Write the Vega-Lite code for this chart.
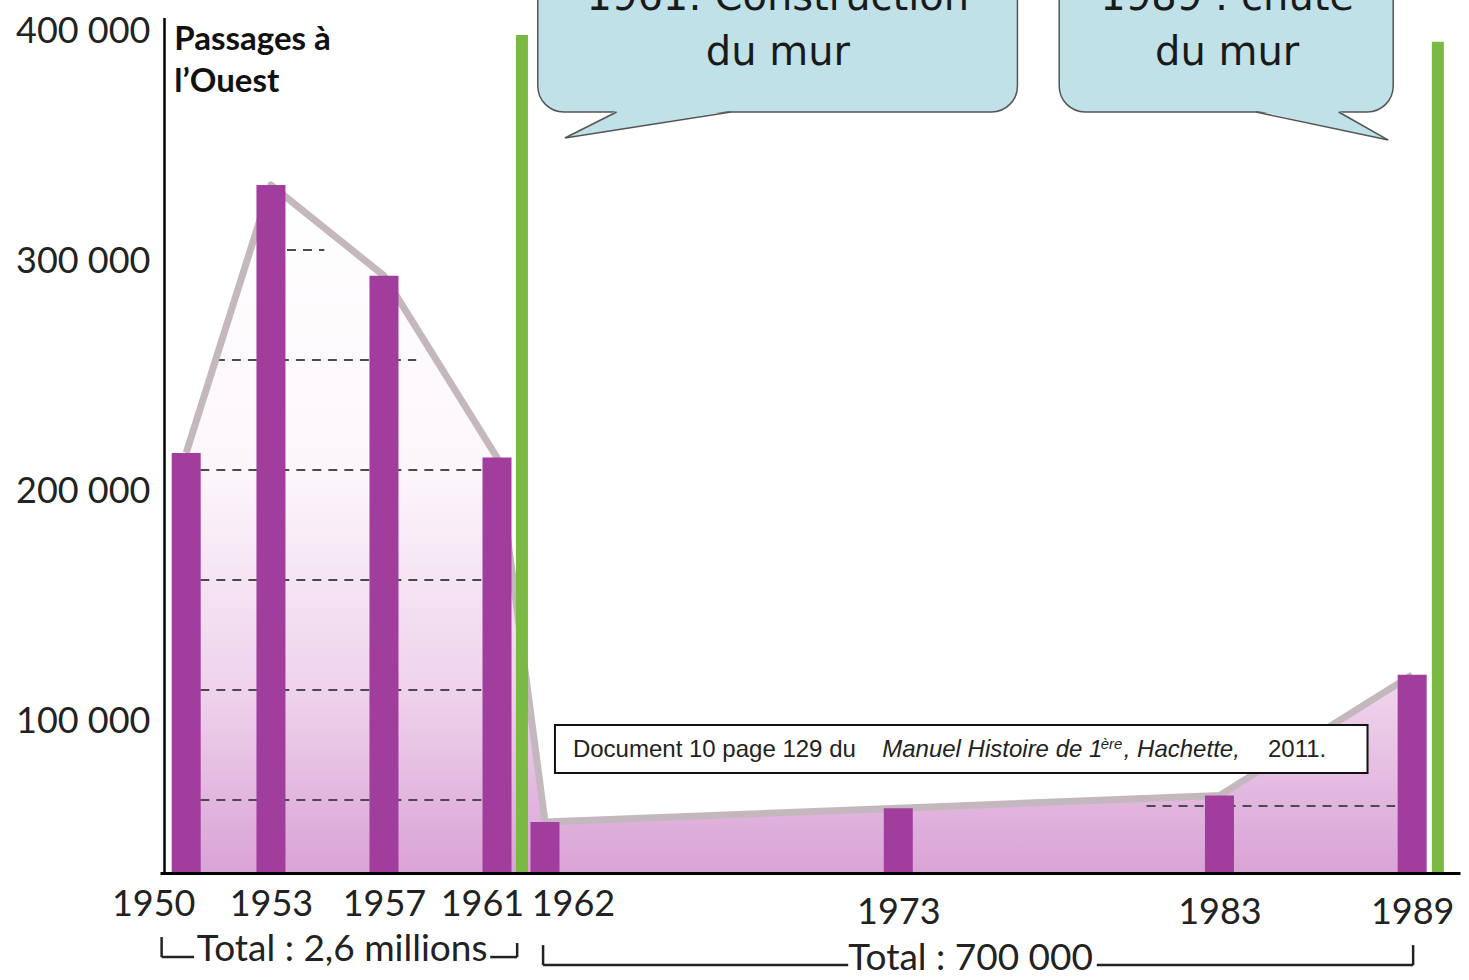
{
  "$schema": "https://vega.github.io/schema/vega-lite/v6.json",
  "width": 1300,
  "height": 873,
  "autosize": {"type": "none"},
  "padding": {"left": 160, "top": 0, "right": 9, "bottom": 107},
  "background": "#ffffff",
  "config": {"view": {"stroke": null}, "font": "Lato"},
  "datasets": {
    "passages": [
      {"x": 1950, "y": 217000},
      {"x": 1953, "y": 333500},
      {"x": 1957, "y": 294000},
      {"x": 1961, "y": 215000},
      {"x": 1962, "y": 56500},
      {"x": 1973, "y": 62500},
      {"x": 1983, "y": 68000},
      {"x": 1989, "y": 120500}
    ],
    "yAxisLine": [
      {"x": 1949.232, "y": 406100}
    ],
    "dashes": [
      {"x": 1953.0, "x2": 1954.89, "y": 305200},
      {"x": 1951.05, "x2": 1958.14, "y": 257400},
      {"x": 1950.5, "x2": 1960.5, "y": 209600},
      {"x": 1950.5, "x2": 1960.5, "y": 161700},
      {"x": 1950.5, "x2": 1960.5, "y": 113900},
      {"x": 1950.5, "x2": 1960.5, "y": 66100},
      {"x": 1980.73, "x2": 1988.47, "y": 63500}
    ],
    "walls": [
      {"x": 1961.52, "y": 398700},
      {"x": 1989.8, "y": 395700}
    ],
    "bubbles": [
      {"x": 1961.85, "x2": 1976.71, "y": 365200, "y2": 450000},
      {"x": 1978.01, "x2": 1988.41, "y": 365200, "y2": 450000}
    ],
    "tailFill": [
      {"bubble": "a", "x": 1962.62, "y": 353900, "y2": 353900},
      {"bubble": "a", "x": 1964.23, "y": 365900, "y2": 357400},
      {"bubble": "a", "x": 1967.79, "y": 365900, "y2": 365900},
      {"bubble": "b", "x": 1984.14, "y": 365900, "y2": 365900},
      {"bubble": "b", "x": 1986.71, "y": 365900, "y2": 357600},
      {"bubble": "b", "x": 1988.26, "y": 353000, "y2": 353000}
    ],
    "tailEdges": [
      {"bubble": "a", "k": 0, "x": 1964.23, "y": 365200},
      {"bubble": "a", "k": 1, "x": 1962.62, "y": 353900},
      {"bubble": "a", "k": 2, "x": 1967.79, "y": 365200},
      {"bubble": "b", "k": 0, "x": 1984.14, "y": 365200},
      {"bubble": "b", "k": 1, "x": 1988.26, "y": 353000},
      {"bubble": "b", "k": 2, "x": 1986.71, "y": 365200}
    ],
    "bubbleText": [
      {"x": 1969.25, "y": 409600, "text": "1961: Construction\ndu mur"},
      {"x": 1983.24, "y": 409600, "text": "1989 : chute\ndu mur"}
    ],
    "sourceBox": [
      {"x": 1962.31, "x2": 1987.61, "y": 98700, "y2": 77800}
    ],
    "source": [
      {"part": "a", "x": 1962.87, "y": 84800, "text": "Document 10 page 129 du"},
      {"part": "b", "x": 1972.5, "y": 84800, "text": "Manuel Histoire de 1"},
      {"part": "c", "x": 1979.3, "y": 88400, "text": "ère"},
      {"part": "d", "x": 1980.02, "y": 84800, "text": ", Hachette,"},
      {"part": "e", "x": 1984.51, "y": 84800, "text": "2011."}
    ],
    "title": [
      {"x": 1949.58, "y": 392200, "text": "Passages à\nl’Ouest"}
    ],
    "brackets": [
      {"x": 1949.13, "x2": 1949.13, "y": 6500, "y2": -2200},
      {"x": 1949.13, "x2": 1950.28, "y": -2200, "y2": -2200},
      {"x": 1960.76, "x2": 1961.42, "y": -2200, "y2": -2200},
      {"x": 1961.42, "x2": 1961.42, "y": -2200, "y2": 3900},
      {"x": 1961.96, "x2": 1961.96, "y": 3000, "y2": -5700},
      {"x": 1961.96, "x2": 1971.44, "y": -5700, "y2": -5700},
      {"x": 1979.18, "x2": 1989.03, "y": -5700, "y2": -5700},
      {"x": 1989.03, "x2": 1989.03, "y": -5700, "y2": 3000}
    ],
    "bracketText": [
      {"x": 1955.52, "y": -3900, "text": "Total : 2,6 millions"},
      {"x": 1975.25, "y": -7800, "text": "Total : 700 000"}
    ]
  },
  "encoding": {
    "x": {
      "field": "x",
      "type": "quantitative",
      "title": null,
      "scale": {"domain": [1949.232, 1961, 1962, 1990.33], "range": [0, 337, 385, 1300], "zero": false, "nice": false},
      "axis": {
        "values": [1950, 1953, 1957, 1961, 1962, 1973, 1983, 1989],
        "format": "d",
        "labelFont": "Lato",
        "labelFontSize": 36,
        "labelColor": "#222222",
        "labelBaseline": "alphabetic",
        "labelPadding": {"condition": {"test": "datum.value > 1965", "value": 50}, "value": 42},
        "labelOffset": {"condition": [
          {"test": "datum.value == 1950", "value": -33},
          {"test": "datum.value == 1961", "value": -15},
          {"test": "datum.value == 1962", "value": 28}
        ], "value": 0},
        "ticks": false,
        "tickSize": 0,
        "grid": false,
        "domainColor": "#000000",
        "domainWidth": 3,
        "labelFlush": false,
        "labelOverlap": false,
        "labelBound": false,
        "zindex": 1
      }
    },
    "y": {
      "field": "y",
      "type": "quantitative",
      "title": null,
      "scale": {"domain": [34350, 413900], "zero": false, "nice": false},
      "axis": {
        "values": [100000, 200000, 300000, 400000],
        "labelExpr": "replace(format(datum.value, ',d'), ',', ' ')",
        "labelFont": "Lato",
        "labelFontSize": 36,
        "labelColor": "#222222",
        "labelPadding": 10,
        "ticks": false,
        "tickSize": 0,
        "grid": false,
        "domain": false,
        "labelFlush": false,
        "labelOverlap": false,
        "zindex": 1
      }
    }
  },
  "layer": [
    {
      "data": {"name": "passages"},
      "mark": {
        "type": "area",
        "color": {
          "gradient": "linear",
          "x1": 0, "y1": 0, "x2": 0, "y2": 1,
          "stops": [
            {"offset": 0, "color": "#ffffff"},
            {"offset": 0.42, "color": "#fcf6fb"},
            {"offset": 0.75, "color": "#eed0eb"},
            {"offset": 1, "color": "#d9a3d6"}
          ]
        }
      },
      "encoding": {"y2": {"datum": 34350}}
    },
    {
      "data": {"name": "dashes"},
      "mark": {"type": "rule", "color": "#4a4a4a", "strokeWidth": 2, "strokeDash": [9, 7]},
      "encoding": {"x2": {"field": "x2"}}
    },
    {
      "data": {"name": "passages"},
      "mark": {"type": "line", "color": "#c4b8be", "strokeWidth": 7, "strokeJoin": "round"},
      "encoding": {}
    },
    {
      "data": {"name": "passages"},
      "mark": {"type": "bar", "color": "#a13d9c", "width": 29},
      "encoding": {"y2": {"datum": 34350}}
    },
    {
      "data": {"name": "walls"},
      "mark": {"type": "rule", "color": "#7bb945", "strokeWidth": 12},
      "encoding": {"y2": {"datum": 34350}}
    },
    {
      "data": {"name": "yAxisLine"},
      "mark": {"type": "rule", "color": "#000000", "strokeWidth": 2.5},
      "encoding": {"y2": {"datum": 34350}}
    },
    {
      "data": {"name": "bubbles"},
      "mark": {"type": "rect", "fill": "#bfe1e7", "stroke": "#555555", "strokeWidth": 1.5, "cornerRadius": 26, "clip": true},
      "encoding": {"x2": {"field": "x2"}, "y2": {"field": "y2"}}
    },
    {
      "data": {"name": "tailFill"},
      "mark": {"type": "area", "color": "#bfe1e7"},
      "encoding": {"y2": {"field": "y2"}, "detail": {"field": "bubble"}}
    },
    {
      "data": {"name": "tailEdges"},
      "mark": {"type": "line", "color": "#555555", "strokeWidth": 1.5},
      "encoding": {"detail": {"field": "bubble"}, "order": {"field": "k"}}
    },
    {
      "data": {"name": "bubbleText"},
      "mark": {"type": "text", "font": "DejaVu Sans", "fontSize": 40, "lineBreak": "\n", "lineHeight": 55, "align": "center", "baseline": "alphabetic", "color": "#1a1a1a", "clip": true},
      "encoding": {"text": {"field": "text"}}
    },
    {
      "data": {"name": "sourceBox"},
      "mark": {"type": "rect", "fill": "#ffffff", "stroke": "#111111", "strokeWidth": 2},
      "encoding": {"x2": {"field": "x2"}, "y2": {"field": "y2"}}
    },
    {
      "data": {"name": "source"},
      "transform": [{"filter": "datum.part == 'a' || datum.part == 'e'"}],
      "mark": {"type": "text", "font": "Liberation Sans", "fontSize": 24, "align": "left", "baseline": "alphabetic", "color": "#222222"},
      "encoding": {"text": {"field": "text"}}
    },
    {
      "data": {"name": "source"},
      "transform": [{"filter": "datum.part == 'b' || datum.part == 'd'"}],
      "mark": {"type": "text", "font": "Liberation Sans", "fontSize": 24, "fontStyle": "italic", "align": "left", "baseline": "alphabetic", "color": "#222222"},
      "encoding": {"text": {"field": "text"}}
    },
    {
      "data": {"name": "source"},
      "transform": [{"filter": "datum.part == 'c'"}],
      "mark": {"type": "text", "font": "Liberation Sans", "fontSize": 15, "fontStyle": "italic", "align": "left", "baseline": "alphabetic", "color": "#222222"},
      "encoding": {"text": {"field": "text"}}
    },
    {
      "data": {"name": "title"},
      "mark": {"type": "text", "font": "Lato", "fontSize": 33, "fontWeight": "bold", "lineBreak": "\n", "lineHeight": 42, "align": "left", "baseline": "alphabetic", "color": "#111111"},
      "encoding": {"text": {"field": "text"}}
    },
    {
      "data": {"name": "brackets"},
      "mark": {"type": "rule", "color": "#222222", "strokeWidth": 2.5},
      "encoding": {"x2": {"field": "x2"}, "y2": {"field": "y2"}}
    },
    {
      "data": {"name": "bracketText"},
      "mark": {"type": "text", "font": "Lato", "fontSize": 37, "align": "center", "baseline": "alphabetic", "color": "#222222"},
      "encoding": {"text": {"field": "text"}}
    }
  ]
}
